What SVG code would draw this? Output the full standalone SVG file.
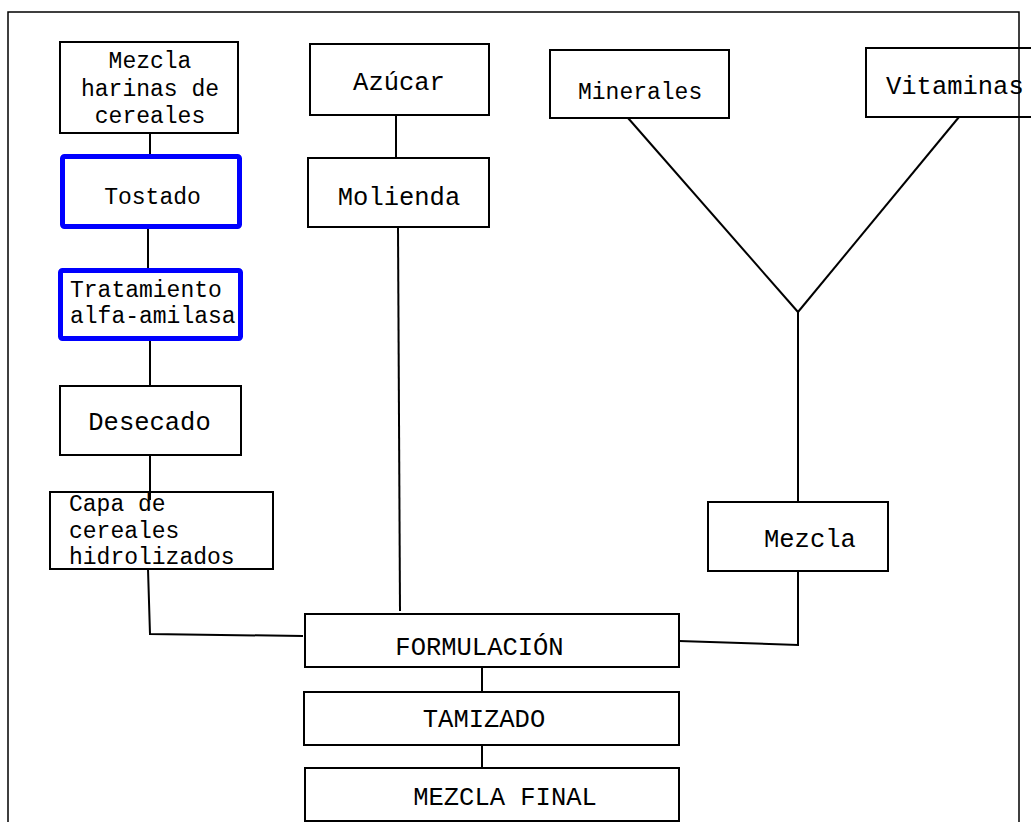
<svg xmlns="http://www.w3.org/2000/svg" width="1031" height="822" viewBox="0 0 1031 822">
<style>
.box{fill:#fff;stroke:#000;stroke-width:2}
.blue{fill:#fff;stroke:#0000ff;stroke-width:5}
.t{font-family:"Liberation Mono","Courier New",monospace;fill:#000}
.s{font-size:23px}
.l{font-size:25.5px}
.c{text-anchor:middle}
.ln{fill:none;stroke:#000;stroke-width:2}
.frame{fill:none;stroke:#000;stroke-width:1.5}
</style>
<rect width="1031" height="822" fill="#fff"/>
<g id="n-mezcla-harinas"><rect class="box" x="60" y="42" width="178" height="91"/>
<text class="t s c" x="150" y="68">Mezcla</text><text class="t s c" x="150" y="96">harinas de</text><text class="t s c" x="150" y="123">cereales</text></g>
<g id="n-tostado"><rect class="blue" x="62.5" y="156.5" width="177" height="70" rx="2"/>
<text class="t s c" x="152.5" y="204">Tostado</text></g>
<g id="n-tratamiento"><rect class="blue" x="60.5" y="270.5" width="180" height="68" rx="2"/>
<text class="t s" x="70" y="297">Tratamiento</text><text class="t s" x="70" y="323">alfa-amilasa</text></g>
<g id="n-desecado"><rect class="box" x="60" y="386" width="181" height="69"/>
<text class="t l c" x="149.5" y="430">Desecado</text></g>
<g id="n-capa"><rect class="box" x="50" y="492" width="223" height="77"/>
<text class="t s" x="69" y="511">Capa de</text><text class="t s" x="69" y="538">cereales</text><text class="t s" x="69" y="564">hidrolizados</text></g>
<g id="n-azucar"><rect class="box" x="310" y="44" width="179" height="71"/>
<text class="t l c" x="399" y="90">Azúcar</text></g>
<g id="n-molienda"><rect class="box" x="308" y="158" width="181" height="69"/>
<text class="t l c" x="399" y="205">Molienda</text></g>
<g id="n-minerales"><rect class="box" x="550" y="50" width="179" height="68"/>
<text class="t s" x="578" y="99">Minerales</text></g>
<g id="n-vitaminas"><rect class="box" x="866" y="48" width="180" height="69"/>
<text class="t l" x="886" y="94">Vitaminas</text></g>
<g id="n-mezcla"><rect class="box" x="708" y="502" width="180" height="69"/>
<text class="t l" x="764" y="547">Mezcla</text></g>
<g id="n-formulacion"><rect class="box" x="305" y="614" width="374" height="53"/>
<text class="t l c" x="479.5" y="655">FORMULACIÓN</text></g>
<g id="n-tamizado"><rect class="box" x="304" y="692" width="375" height="53"/>
<text class="t l c" x="484" y="727">TAMIZADO</text></g>
<g id="n-mezcla-final"><rect class="box" x="305" y="768" width="374" height="53"/>
<text class="t l c" x="505" y="805">MEZCLA FINAL</text></g>
<g id="connectors">
<line class="ln" x1="150" y1="133" x2="150" y2="154"/>
<line class="ln" x1="148" y1="229" x2="148" y2="268"/>
<line class="ln" x1="150" y1="341" x2="150" y2="386"/>
<line class="ln" x1="150" y1="455" x2="150" y2="500"/>
<polyline class="ln" points="148,569 150,634 303,636"/>
<line class="ln" x1="396" y1="115" x2="396" y2="158"/>
<line class="ln" x1="398" y1="227" x2="400" y2="611"/>
<line class="ln" x1="628" y1="118" x2="798" y2="312"/>
<line class="ln" x1="959" y1="117" x2="798" y2="312"/>
<line class="ln" x1="798" y1="312" x2="798" y2="502"/>
<polyline class="ln" points="679,641 798,645 798,571"/>
<line class="ln" x1="482" y1="667" x2="482" y2="692"/>
<line class="ln" x1="482" y1="745" x2="482" y2="768"/>
</g>
<polyline class="frame" points="8,830 8,12 1019,12 1019,830"/>
</svg>
